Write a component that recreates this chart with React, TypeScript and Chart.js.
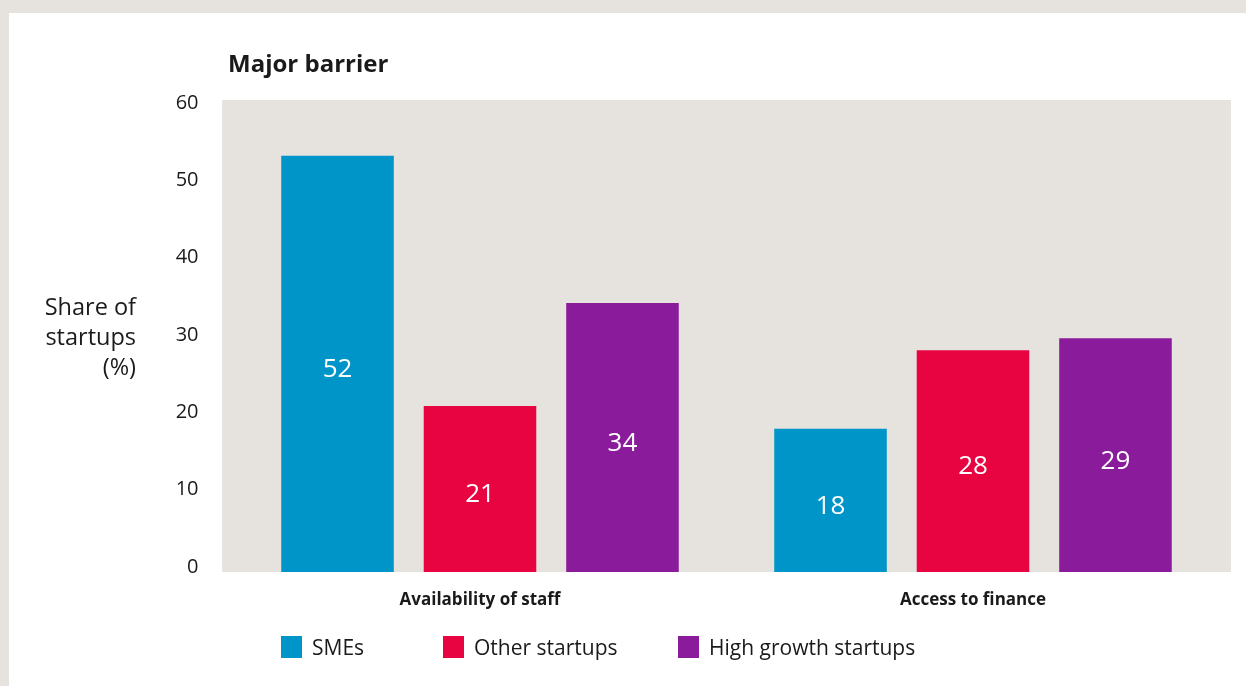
import React, { useEffect, useRef } from "react";
import { Chart, registerables } from "chart.js";

Chart.register(...registerables);

const categories = ["Availability of staff", "Access to finance"];
const seriesNames = ["SMEs", "Other startups", "High growth startups"];
const smes = [52.9, 18.2];
const otherStartups = [21.1, 28.2];
const highGrowth = [34.2, 29.7];
const smesLabels = ["52", "18"];
const otherLabels = ["21", "28"];
const highLabels = ["34", "29"];
const yTicks = [0, 10, 20, 30, 40, 50, 60];
const colors = ["#0095c8", "#e80441", "#8a1b9b"];

const FONT = "'Open Sans', Lato, sans-serif";
const PLOT_EXT = 11.5;

const plotBg = {
  id: "plotBg",
  beforeDraw(chart: any) {
    const { ctx, chartArea } = chart;
    ctx.save();
    ctx.fillStyle = "#e6e3df";
    ctx.fillRect(
      chartArea.left - PLOT_EXT,
      chartArea.top,
      chartArea.right - chartArea.left + 2 * PLOT_EXT,
      chartArea.bottom - chartArea.top
    );
    ctx.restore();
  },
};

const barLabels = {
  id: "barLabels",
  afterDatasetsDraw(chart: any) {
    const { ctx } = chart;
    const all = [smesLabels, otherLabels, highLabels];
    ctx.save();
    ctx.fillStyle = "#ffffff";
    ctx.font = `26px ${FONT}`;
    ctx.textAlign = "center";
    ctx.textBaseline = "middle";
    chart.data.datasets.forEach((ds: any, i: number) => {
      const meta = chart.getDatasetMeta(i);
      meta.data.forEach((bar: any, j: number) => {
        const y = (bar.y + bar.base) / 2 + 6;
        ctx.fillText(all[i][j], bar.x, y);
      });
    });
    ctx.restore();
  },
};

const legendLefts = [281, 443, 678];

export default function App() {
  const ref = useRef<HTMLCanvasElement | null>(null);

  useEffect(() => {
    document.body.style.margin = "0";
    const chart = new Chart(ref.current!, {
      type: "bar",
      data: {
        labels: categories,
        datasets: [
          { label: seriesNames[0], data: smes, backgroundColor: colors[0], yAxisID: "y" },
          { label: seriesNames[1], data: otherStartups, backgroundColor: colors[1], yAxisID: "y" },
          { label: seriesNames[2], data: highGrowth, backgroundColor: colors[2], yAxisID: "y" },
        ],
      },
      options: {
        animation: false,
        responsive: false,
        maintainAspectRatio: false,
        layout: { padding: { left: 150, top: 100, right: 26.5, bottom: 64 } },
        datasets: { bar: { categoryPercentage: 0.867, barPercentage: 0.79 } },
        plugins: {
          legend: { display: false },
          title: { display: false },
          tooltip: { enabled: false },
        },
        scales: {
          x: {
            grid: { display: false },
            border: { display: false },
            ticks: {
              color: "#1a1a1a",
              padding: 10,
              font: { family: FONT, size: 17, weight: "bold" },
            },
            afterFit(scale: any) {
              scale.height = 50;
            },
          },
          y: {
            display: false,
            min: 0,
            max: 60,
          },
          yLabels: {
            position: "left",
            min: -0.65,
            max: 60.39,
            grid: { display: false },
            border: { display: false },
            afterBuildTicks(scale: any) {
              scale.ticks = yTicks.map((v) => ({ value: v }));
            },
            ticks: {
              color: "#1a1a1a",
              padding: 27,
              font: { family: FONT, size: 20 },
            },
            afterFit(scale: any) {
              scale.width = 83.5;
            },
          },
        },
      },
      plugins: [plotBg, barLabels],
    });
    return () => chart.destroy();
  }, []);

  const textColor = "#1a1a1a";

  return (
    <div
      style={{
        position: "fixed",
        left: 0,
        top: 0,
        width: 1246,
        height: 686,
        background: "#e6e2dd",
        overflow: "hidden",
        fontFamily: FONT,
      }}
    >
      <div style={{ position: "absolute", left: 9, top: 13, width: 1237, height: 673, background: "#ffffff" }} />
      <canvas ref={ref} width={1246} height={686} style={{ position: "absolute", left: 0, top: 0 }} />
      <div
        style={{
          position: "absolute",
          left: 228,
          top: 46,
          fontSize: 24,
          fontWeight: 700,
          color: textColor,
          lineHeight: "34px",
          whiteSpace: "nowrap",
        }}
      >
        Major barrier
      </div>
      <div
        style={{
          position: "absolute",
          left: 0,
          top: 291,
          width: 136,
          textAlign: "right",
          fontSize: 23.5,
          lineHeight: "30px",
          color: textColor,
          whiteSpace: "nowrap",
        }}
      >
        Share of
        <br />
        startups
        <br />
        (%)
      </div>
      {seriesNames.map((name, i) => (
        <div
          key={name}
          style={{
            position: "absolute",
            left: legendLefts[i],
            top: 636,
            height: 22,
            display: "flex",
            alignItems: "center",
            whiteSpace: "nowrap",
          }}
        >
          <span style={{ display: "inline-block", width: 21, height: 22, background: colors[i], marginRight: 10 }} />
          <span style={{ fontSize: 21, color: textColor, lineHeight: "22px" }}>{name}</span>
        </div>
      ))}
    </div>
  );
}
